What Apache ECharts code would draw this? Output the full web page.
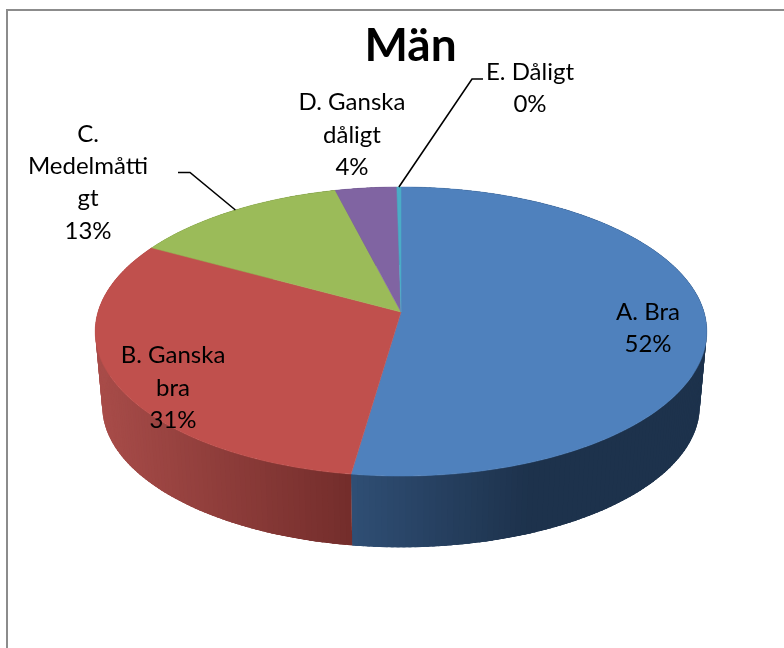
<!DOCTYPE html>
<html>
<head>
<meta charset="utf-8">
<style>html,body{margin:0;padding:0;background:#fff}#c{width:784px;height:648px}</style>
<script src="https://cdn.jsdelivr.net/npm/echarts@6/dist/echarts.min.js"></script>
</head>
<body>
<div id="c"></div>
<script>
var titleText = 'Män';
var categories = ['A. Bra', 'B. Ganska\nbra', 'C.\nMedelmåtti\ngt', 'D. Ganska\ndåligt', 'E. Dåligt'];
var values = [52.28, 30.72, 13.05, 3.7, 0.25];

var topColors = ['#4F81BD', '#C0504D', '#9BBB59', '#8064A2', '#4BACC6'];
var wallColors = [['#2f4e74', '#1d324c'], ['#a84c49', '#732d2b'], ['#6f8a3f', '#55692f'], ['#5c4777', '#47375c'], ['#357d90', '#2a6373']];
var wallRanges = [[352, 530], [96, 352], [150, 335], [335, 397], [397, 401]];
var labelPos = [[648, 328], [173, 388], [88, 182.5], [352, 135], [530, 88]];
// leader elbows: [label-side end, elbow], anchor fraction along the slice rim
var leaders = [null, null, { from: [178, 172.5], elbow: [190, 172.5], f: 0.51 }, null, { from: [483, 79], elbow: [472, 79], f: 0.5 }];

var FONT = 'Lato, "Open Sans", sans-serif';
var cx = 401, cy = 312, R = 303, S = 141.9, P = 0.135;
var botCy = 387, botScale = 0.977;
var total = values.reduce(function (a, b) { return a + b; }, 0);
var starts = [];
values.reduce(function (acc, v, i) { starts[i] = acc; return acc + v; }, 0);

function angleOf(cum) { return cum / total * Math.PI * 2; }
function rim(a, bottom) {
  var u = Math.sin(a), v = Math.cos(a), w = 1 + P * v;
  var k = bottom ? botScale : 1;
  return [cx + k * R * u / w, (bottom ? botCy : cy) - k * S * v / w];
}
function arcSteps(a0, a1) { return Math.max(2, Math.ceil((a1 - a0) / (Math.PI / 180))); }

function renderWall(params, api) {
  var i = params.dataIndex, a0 = angleOf(starts[i]), a1 = angleOf(starts[i] + api.value(0));
  var n = arcSteps(a0, a1), kids = [];
  var range = wallRanges[i], cols = wallColors[i];
  var step = (a1 - a0) / n;
  for (var k = 0; k < n; k++) {
    var s = a0 + step * k, e = a0 + step * (k + 1);
    var eOver = Math.min(a1, e + step * 1.5);
    var p1 = rim(s), p2 = rim(eOver), p3 = rim(eOver, true), p4 = rim(s, true);
    var t = ((rim(s)[0] + rim(e)[0]) / 2 - range[0]) / (range[1] - range[0]);
    t = Math.min(1, Math.max(0, t));
    var c = echarts.color.lerp(t, cols);
    kids.push({ type: 'polygon', shape: { points: [p1, p2, p3, p4] }, style: { fill: c }, silent: true });
  }
  return { type: 'group', children: kids };
}

function renderTop(params, api) {
  var i = params.dataIndex, a0 = angleOf(starts[i]), a1 = angleOf(starts[i] + api.value(0));
  var n = arcSteps(a0, a1), pts = [[cx, cy]];
  for (var k = 0; k <= n; k++) pts.push(rim(a0 + (a1 - a0) * k / n));
  return { type: 'polygon', shape: { points: pts }, style: { fill: topColors[i], stroke: topColors[i], lineWidth: 0.5 }, silent: true };
}

function renderLabel(params, api) {
  var i = params.dataIndex, v = api.value(0), kids = [];
  var l = leaders[i];
  if (l) {
    var a = angleOf(starts[i] + v * l.f);
    kids.push({ type: 'polyline', shape: { points: [l.from, l.elbow, rim(a)] }, style: { fill: null, stroke: '#000', lineWidth: 1.6 }, silent: true });
  }
  kids.push({
    type: 'text', silent: true,
    style: {
      text: categories[i] + '\n' + Math.round(v) + '%',
      x: labelPos[i][0], y: labelPos[i][1],
      align: 'center', verticalAlign: 'middle',
      fill: '#000', font: '24px ' + FONT, lineHeight: 32.3
    }
  });
  return { type: 'group', children: kids };
}

var seriesData = values.map(function (v, i) { return { name: categories[i], value: [v] }; });
var chart = echarts.init(document.getElementById('c'), null, { renderer: 'canvas' });
chart.setOption({
  animation: false,
  backgroundColor: '#fff',
  title: {
    text: titleText, left: 405.5, top: 18, textAlign: 'center',
    textStyle: { fontFamily: FONT, fontSize: 46, fontWeight: 'bold', color: '#000' }
  },
  tooltip: { show: false },
  graphic: [{
    type: 'rect', silent: true, z: 0,
    shape: { x: 7, y: 10, width: 800, height: 660 },
    style: { fill: '#fff', stroke: '#8c8c8c', lineWidth: 2 }
  }],
  series: [
    { type: 'custom', coordinateSystem: 'none', clip: false, z: 2, renderItem: renderWall, data: seriesData },
    { type: 'custom', coordinateSystem: 'none', clip: false, z: 3, renderItem: renderTop, data: seriesData },
    { type: 'custom', coordinateSystem: 'none', clip: false, z: 4, renderItem: renderLabel, data: seriesData }
  ]
});
</script>
</body>
</html>
